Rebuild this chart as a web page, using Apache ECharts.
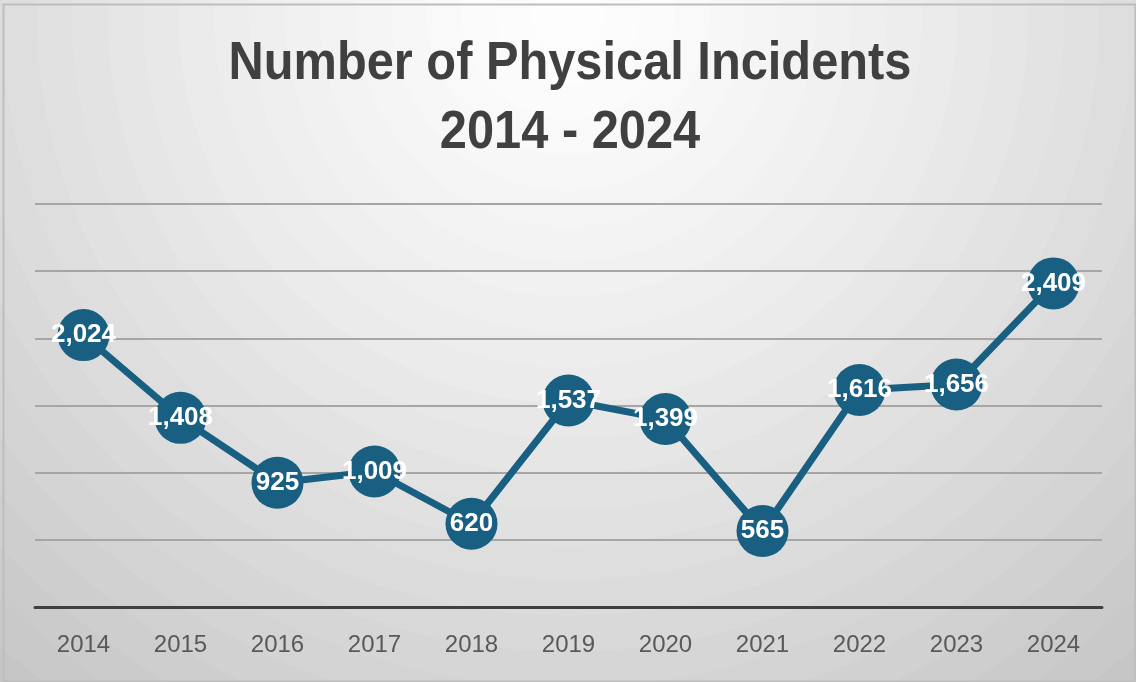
<!DOCTYPE html>
<html>
<head>
<meta charset="utf-8">
<script src="https://cdn.jsdelivr.net/npm/echarts@6/dist/echarts.min.js"></script>
<style>
html,body{margin:0;padding:0;width:1136px;height:682px;overflow:hidden;background:#fff;}
#chart{width:1136px;height:682px;}
</style>
</head>
<body>
<div id="chart"></div>
<script>
const years = ['2014','2015','2016','2017','2018','2019','2020','2021','2022','2023','2024'];
const incidents = [2024, 1408, 925, 1009, 620, 1537, 1399, 565, 1616, 1656, 2409];
const yTicks = [0, 500, 1000, 1500, 2000, 2500, 3000];
const titleLines = ['Number of Physical Incidents', '2014 - 2024'];

// stepped radial background (banded like the reference)
const stops = [];
const nBands = 26;
for (let i = 0; i < nBands; i++) {
  const t0 = i / nBands, t1 = (i + 1) / nBands;
  const v = Math.round(253 - (253 - 192) * Math.pow(t0, 1.25));
  const c = 'rgb(' + v + ',' + v + ',' + v + ')';
  stops.push({offset: t0, color: c});
  stops.push({offset: t1 - 0.0001, color: c});
}

const titleFont = 'bold 53px "Liberation Sans", Arial, sans-serif';

const chart = echarts.init(document.getElementById('chart'), null, {renderer: 'canvas'});
chart.setOption({
  backgroundColor: {
    type: 'radial', x: 0.5, y: 0.02, r: 1.35,
    colorStops: stops, global: false
  },
  animation: false,
  graphic: [{
    type: 'rect', left: 1, top: 2, silent: true, z: 100,
    shape: {width: 1132, height: 677},
    style: {fill: 'none', stroke: '#bdbdbd', lineWidth: 2}
  }, {
    type: 'text', x: 570, y: 64, scaleX: 0.92, silent: true, z: 10,
    style: {text: titleLines[0], font: titleFont, fill: '#404040', align: 'center', verticalAlign: 'middle'}
  }, {
    type: 'text', x: 570, y: 133, scaleX: 0.92, silent: true, z: 10,
    style: {text: titleLines[1], font: titleFont, fill: '#404040', align: 'center', verticalAlign: 'middle'}
  }],
  grid: {left: 35, right: 34, top: 204, bottom: 75, containLabel: false},
  xAxis: {
    type: 'category',
    data: years,
    boundaryGap: true,
    axisLine: {show: true, lineStyle: {color: '#404040', width: 3}},
    axisTick: {show: false},
    axisLabel: {
      color: '#595959', fontSize: 24, margin: 26,
      fontFamily: '"Liberation Sans", Arial, sans-serif'
    },
    z: 3
  },
  yAxis: {
    type: 'value',
    min: yTicks[0],
    max: yTicks[yTicks.length - 1],
    interval: yTicks[1] - yTicks[0],
    axisLine: {show: false},
    axisTick: {show: false},
    axisLabel: {show: false},
    splitLine: {show: true, lineStyle: {color: '#a6a6a6', width: 2}}
  },
  series: [{
    type: 'line',
    data: incidents,
    symbol: 'circle',
    symbolSize: 52,
    lineStyle: {color: '#185f82', width: 7},
    itemStyle: {color: '#185f82'},
    label: {
      show: true,
      position: 'inside',
      color: '#ffffff',
      fontSize: 26,
      fontWeight: 'bold',
      fontFamily: '"Liberation Sans", Arial, sans-serif',
      formatter: p => p.value.toLocaleString('en-US')
    },
    z: 5
  }]
});
</script>
</body>
</html>
